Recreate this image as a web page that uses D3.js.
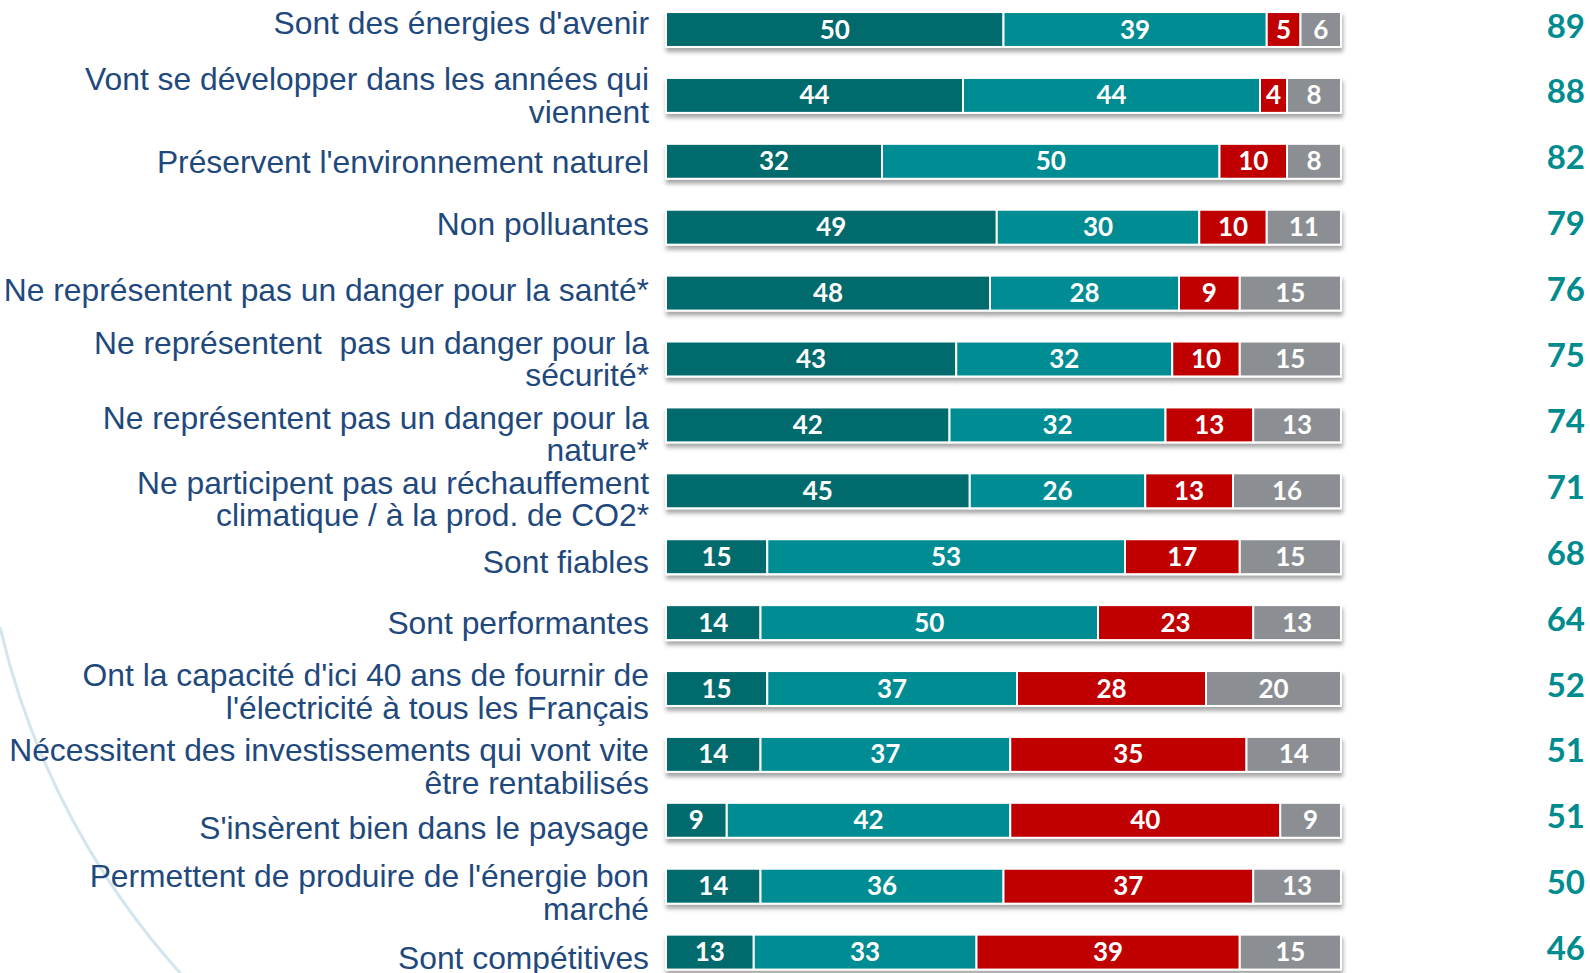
<!DOCTYPE html>
<html>
<head>
<meta charset="utf-8">
<script src="https://cdn.jsdelivr.net/npm/d3@7"></script>
<style>
  html, body { margin: 0; padding: 0; background: #ffffff; }
  svg { display: block; }
  .lbl { white-space: pre; }
</style>
</head>
<body>
<svg id="chart" width="1590" height="973"></svg>
<script>
// ---- data ----
const categories = [
  "Sont des énergies d'avenir",
  "Vont se développer dans les années qui\nviennent",
  "Préservent l'environnement naturel",
  "Non polluantes",
  "Ne représentent pas un danger pour la santé*",
  "Ne représentent  pas un danger pour la\nsécurité*",
  "Ne représentent pas un danger pour la\nnature*",
  "Ne participent pas au réchauffement\nclimatique / à la prod. de CO2*",
  "Sont fiables",
  "Sont performantes",
  "Ont la capacité d'ici 40 ans de fournir de\nl'électricité à tous les Français",
  "Nécessitent des investissements qui vont vite\nêtre rentabilisés",
  "S'insèrent bien dans le paysage",
  "Permettent de produire de l'énergie bon\nmarché",
  "Sont compétitives"
];
const tout_a_fait   = [50, 44, 32, 49, 48, 43, 42, 45, 15, 14, 15, 14,  9, 14, 13];
const plutot_oui    = [39, 44, 50, 30, 28, 32, 32, 26, 53, 50, 37, 37, 42, 36, 33];
const plutot_non    = [ 5,  4, 10, 10,  9, 10, 13, 13, 17, 23, 28, 35, 40, 37, 39];
const pas_du_tout   = [ 6,  8,  8, 11, 15, 15, 13, 16, 15, 13, 20, 14,  9, 13, 15];
const totals        = [89, 88, 82, 79, 76, 75, 74, 71, 68, 64, 52, 51, 51, 50, 46];
const seriesKeys    = ["tout_a_fait", "plutot_oui", "plutot_non", "pas_du_tout"];
const seriesColors  = ["#006B6D", "#008C93", "#C00000", "#8B8E92"];

// layout-only: small vertical nudges of the category text blocks (px)
const labelNudge = [-7, 0, 1, -3, -3, 0, 9, 8, 5, 0, 3, 12, 8, 6, 6];

// ---- layout ----
const svg = d3.select("#chart");
const x = d3.scaleLinear().domain([0, 100]).range([666, 1341]);
const step = 65.9;
const firstCenter = 29.5;
const y = d3.scaleBand()
  .domain(categories)
  .range([firstCenter - step / 2, firstCenter - step / 2 + step * categories.length])
  .paddingInner(0.47)
  .paddingOuter(0.235);

const rows = categories.map((c, i) => ({
  cat: c,
  idx: i,
  tout_a_fait: tout_a_fait[i],
  plutot_oui: plutot_oui[i],
  plutot_non: plutot_non[i],
  pas_du_tout: pas_du_tout[i],
  total: totals[i]
}));
const stacked = d3.stack().keys(seriesKeys)(rows);

// ---- defs ----
const defs = svg.append("defs");
const f = defs.append("filter").attr("id", "shadow")
  .attr("x", "-5%").attr("y", "-30%").attr("width", "110%").attr("height", "170%");
f.append("feDropShadow").attr("dx", 1).attr("dy", 4).attr("stdDeviation", 2)
  .attr("flood-color", "#000").attr("flood-opacity", 0.35);

// ---- decorative arc ----
svg.append("path")
  .attr("d", "M0,627 A780,780 0 0,0 196,990")
  .attr("fill", "none")
  .attr("stroke", "#D3E5EF")
  .attr("stroke-width", 3);

// ---- bars ----
const barLayer = svg.append("g").attr("filter", "url(#shadow)");
stacked.forEach((s, si) => {
  barLayer.append("g").selectAll("rect")
    .data(s)
    .join("rect")
    .attr("x", d => x(d[0]))
    .attr("y", d => y(d.data.cat))
    .attr("width", d => x(d[1]) - x(d[0]))
    .attr("height", y.bandwidth())
    .attr("fill", seriesColors[si])
    .attr("stroke", "#ffffff")
    .attr("stroke-width", 2);
});

// segment labels
stacked.forEach((s, si) => {
  svg.append("g").selectAll("text")
    .data(s)
    .join("text")
    .attr("x", d => (x(d[0]) + x(d[1])) / 2)
    .attr("y", d => y(d.data.cat) + y.bandwidth() / 2 + 9)
    .attr("text-anchor", "middle")
    .attr("font-family", "Lato, 'Open Sans', sans-serif")
    .attr("font-weight", "bold")
    .attr("font-size", 26)
    .attr("fill", "#ffffff")
    .text(d => d[1] - d[0]);
});

// ---- category labels ----
const fs = 31.8, lh = 32.4;
const lbl = svg.append("g");
rows.forEach(r => {
  const lines = r.cat.split("\n");
  const cy = y(r.cat) + y.bandwidth() / 2 + labelNudge[r.idx];
  const t = lbl.append("text")
    .attr("class", "lbl")
    .attr("text-anchor", "end")
    .attr("font-family", "'Liberation Sans', Arial, sans-serif")
    .attr("font-size", fs)
    .attr("fill", "#1F497D");
  lines.forEach((ln, k) => {
    t.append("tspan")
      .attr("x", 649)
      .attr("y", cy - (lines.length - 1) * lh / 2 + k * lh + fs * 0.35)
      .text(ln);
  });
});

// ---- totals ----
svg.append("g").selectAll("text")
  .data(rows)
  .join("text")
  .attr("x", 1585)
  .attr("y", d => y(d.cat) + y.bandwidth() / 2 + 8)
  .attr("text-anchor", "end")
  .attr("font-family", "Lato, 'Open Sans', sans-serif")
  .attr("font-weight", "bold")
  .attr("font-size", 33)
  .attr("fill", "#008C8F")
  .text(d => d.total);
</script>
</body>
</html>
